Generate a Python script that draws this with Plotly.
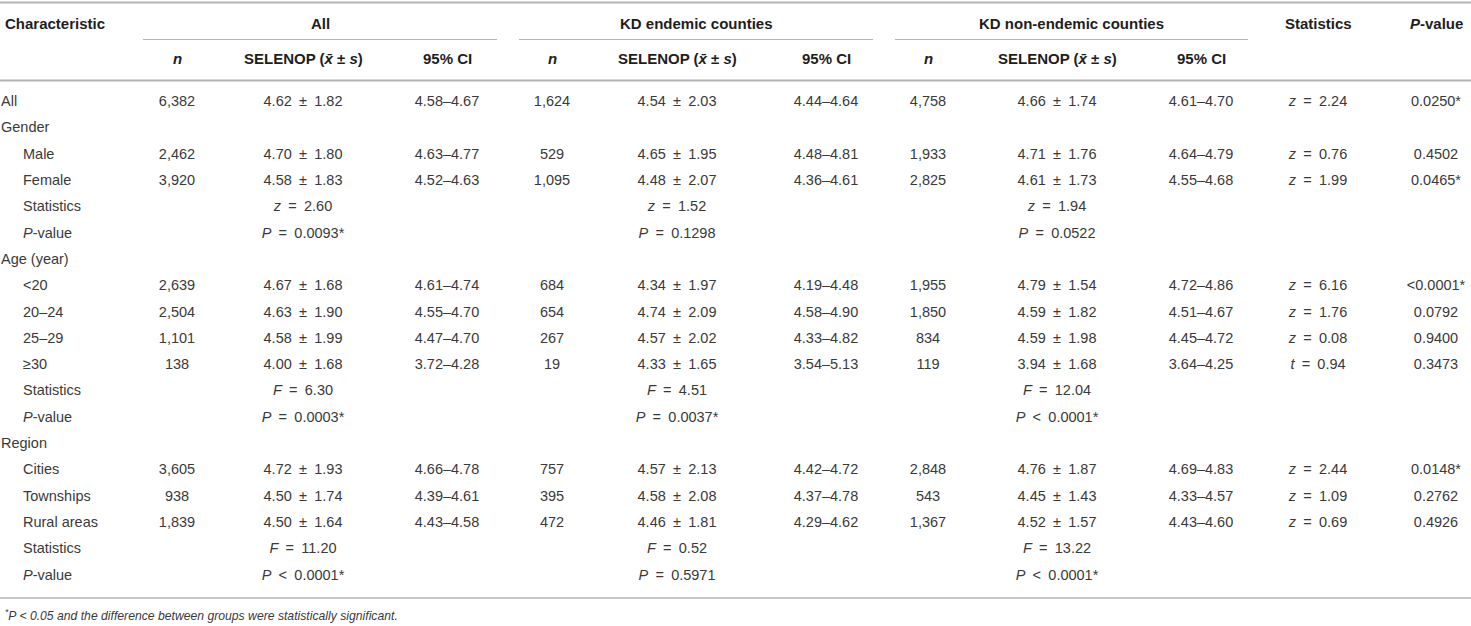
import re
import plotly.graph_objects as go

W, H = 1471, 626

# ---- table data ----
labels = ["All", "Gender", "Male", "Female", "Statistics", "P-value",
          "Age (year)", "<20", "20–24", "25–29", "≥30", "Statistics", "P-value",
          "Region", "Cities", "Townships", "Rural areas", "Statistics", "P-value"]
group_rows = ["All", "Gender", "Age (year)", "Region"]

all_n = ["6,382", "", "2,462", "3,920", "", "", "", "2,639", "2,504", "1,101", "138",
         "", "", "", "3,605", "938", "1,839", "", ""]
all_sel = ["4.62 ± 1.82", "", "4.70 ± 1.80", "4.58 ± 1.83", "z = 2.60", "P = 0.0093*",
           "", "4.67 ± 1.68", "4.63 ± 1.90", "4.58 ± 1.99", "4.00 ± 1.68", "F = 6.30",
           "P = 0.0003*", "", "4.72 ± 1.93", "4.50 ± 1.74", "4.50 ± 1.64",
           "F = 11.20", "P < 0.0001*"]
all_ci = ["4.58–4.67", "", "4.63–4.77", "4.52–4.63", "", "", "", "4.61–4.74", "4.55–4.70",
          "4.47–4.70", "3.72–4.28", "", "", "", "4.66–4.78", "4.39–4.61", "4.43–4.58", "", ""]

end_n = ["1,624", "", "529", "1,095", "", "", "", "684", "654", "267", "19",
         "", "", "", "757", "395", "472", "", ""]
end_sel = ["4.54 ± 2.03", "", "4.65 ± 1.95", "4.48 ± 2.07", "z = 1.52", "P = 0.1298",
           "", "4.34 ± 1.97", "4.74 ± 2.09", "4.57 ± 2.02", "4.33 ± 1.65", "F = 4.51",
           "P = 0.0037*", "", "4.57 ± 2.13", "4.58 ± 2.08", "4.46 ± 1.81",
           "F = 0.52", "P = 0.5971"]
end_ci = ["4.44–4.64", "", "4.48–4.81", "4.36–4.61", "", "", "", "4.19–4.48", "4.58–4.90",
          "4.33–4.82", "3.54–5.13", "", "", "", "4.42–4.72", "4.37–4.78", "4.29–4.62", "", ""]

non_n = ["4,758", "", "1,933", "2,825", "", "", "", "1,955", "1,850", "834", "119",
         "", "", "", "2,848", "543", "1,367", "", ""]
non_sel = ["4.66 ± 1.74", "", "4.71 ± 1.76", "4.61 ± 1.73", "z = 1.94", "P = 0.0522",
           "", "4.79 ± 1.54", "4.59 ± 1.82", "4.59 ± 1.98", "3.94 ± 1.68", "F = 12.04",
           "P < 0.0001*", "", "4.76 ± 1.87", "4.45 ± 1.43", "4.52 ± 1.57",
           "F = 13.22", "P < 0.0001*"]
non_ci = ["4.61–4.70", "", "4.64–4.79", "4.55–4.68", "", "", "", "4.72–4.86", "4.51–4.67",
          "4.45–4.72", "3.64–4.25", "", "", "", "4.69–4.83", "4.33–4.57", "4.43–4.60", "", ""]

stats = ["z = 2.24", "", "z = 0.76", "z = 1.99", "", "", "",
         "z = 6.16", "z = 1.76", "z = 0.08", "t = 0.94", "", "", "",
         "z = 2.44", "z = 1.09", "z = 0.69", "", ""]
pvals = ["0.0250*", "", "0.4502", "0.0465*", "", "", "", "<0.0001*", "0.0792", "0.9400",
         "0.3473", "", "", "", "0.0148*", "0.2762", "0.4926", "", ""]

groups = ["All", "KD endemic counties", "KD non-endemic counties"]
sub_headers = ["<i>n</i>", "SELENOP (<i>x̄</i> ± <i>s</i>)", "95% CI"]
footnote = "<sup>*</sup><i>P</i> &lt; 0.05 and the difference between groups were statistically significant."

# ---- look ----
FONT = "Liberation Sans, Arial, Helvetica, sans-serif"
TXT = "#3a3a3a"
HEAD = "#1e1e1e"
RULE = "#b4b4b4"
FS = 14.5
HFS = 15
SP = "\u2002"

row_y0, row_dy = 102.5, 26.3
row_y = [row_y0 + i * row_dy for i in range(len(labels))]

group_cols = [(177, 303, 447), (552, 677, 826), (928, 1057, 1201)]
group_span = [(143, 497), (519, 873), (895, 1248)]
stat_x, p_x = 1318, 1436


def fmt(s):
    s = s.replace("<", "&lt;")
    m = re.match(r"^([zFtP]) (=|&lt;) (.*)$", s)
    if m:
        return f"<i>{m.group(1)}</i>{SP}{m.group(2)}{SP}{m.group(3)}"
    if s.startswith("P-value"):
        return "<i>P</i>-value"
    return s.replace(" ± ", f"{SP}±{SP}")


fig = go.Figure()


def text_col(x, values, pos="middle center", color=TXT):
    fig.add_trace(go.Scatter(
        x=[x] * len(values), y=row_y, text=[fmt(v) for v in values], mode="text",
        textposition=pos, textfont=dict(family=FONT, size=FS, color=color),
        hoverinfo="skip", showlegend=False))


# first column: group rows flush left, sub rows indented
text_col(1, [l if l in group_rows else "" for l in labels], "middle right")
text_col(23, [l if l not in group_rows else "" for l in labels], "middle right")

for (xn, xs, xc), cols in zip(group_cols, [(all_n, all_sel, all_ci),
                                           (end_n, end_sel, end_ci),
                                           (non_n, non_sel, non_ci)]):
    text_col(xn, cols[0])
    text_col(xs, cols[1])
    text_col(xc, cols[2])

text_col(stat_x, stats)
text_col(p_x, pvals)

# header text
ann = []
hfont = dict(family=FONT, size=HFS, color=HEAD)
ann.append(dict(x=3, y=23, text="<b>Characteristic</b>", xanchor="left", showarrow=False, font=hfont))
for g, (a, b), cols in zip(groups, group_span, group_cols):
    ann.append(dict(x=(a + b) / 2, y=23, text=f"<b>{g}</b>", showarrow=False, font=hfont))
    for h, cx in zip(sub_headers, cols):
        ann.append(dict(x=cx, y=58.5, text=f"<b>{h}</b>", showarrow=False, font=hfont))
ann.append(dict(x=stat_x, y=23, text="<b>Statistics</b>", showarrow=False, font=hfont))
ann.append(dict(x=p_x, y=23, text="<b><i>P</i>-value</b>", showarrow=False, font=hfont))
ann.append(dict(x=3, y=615, text=f"<i>{footnote}</i>", xanchor="left", showarrow=False,
                font=dict(family=FONT, size=12.2, color=TXT)))
for a in ann:
    a.update(xref="x", yref="y", yanchor="middle")

# rules
shapes = []
for y, w in [(2.5, 2), (80.5, 2), (598, 1.5)]:
    shapes.append(dict(type="line", x0=0, x1=W, y0=y, y1=y, line=dict(color=RULE, width=w)))
for a, b in group_span:
    shapes.append(dict(type="line", x0=a, x1=b, y0=39.5, y1=39.5, line=dict(color=RULE, width=1.2)))
for s in shapes:
    s.update(xref="x", yref="y")

fig.update_layout(
    width=W, height=H,
    margin=dict(l=0, r=0, t=0, b=0),
    paper_bgcolor="white", plot_bgcolor="white",
    xaxis=dict(range=[0, W], visible=False, fixedrange=True),
    yaxis=dict(range=[H, 0], visible=False, fixedrange=True),
    annotations=ann, shapes=shapes,
)

fig.write_html("out.html", config={"displayModeBar": False},
               post_script="document.body.style.margin='0';")
